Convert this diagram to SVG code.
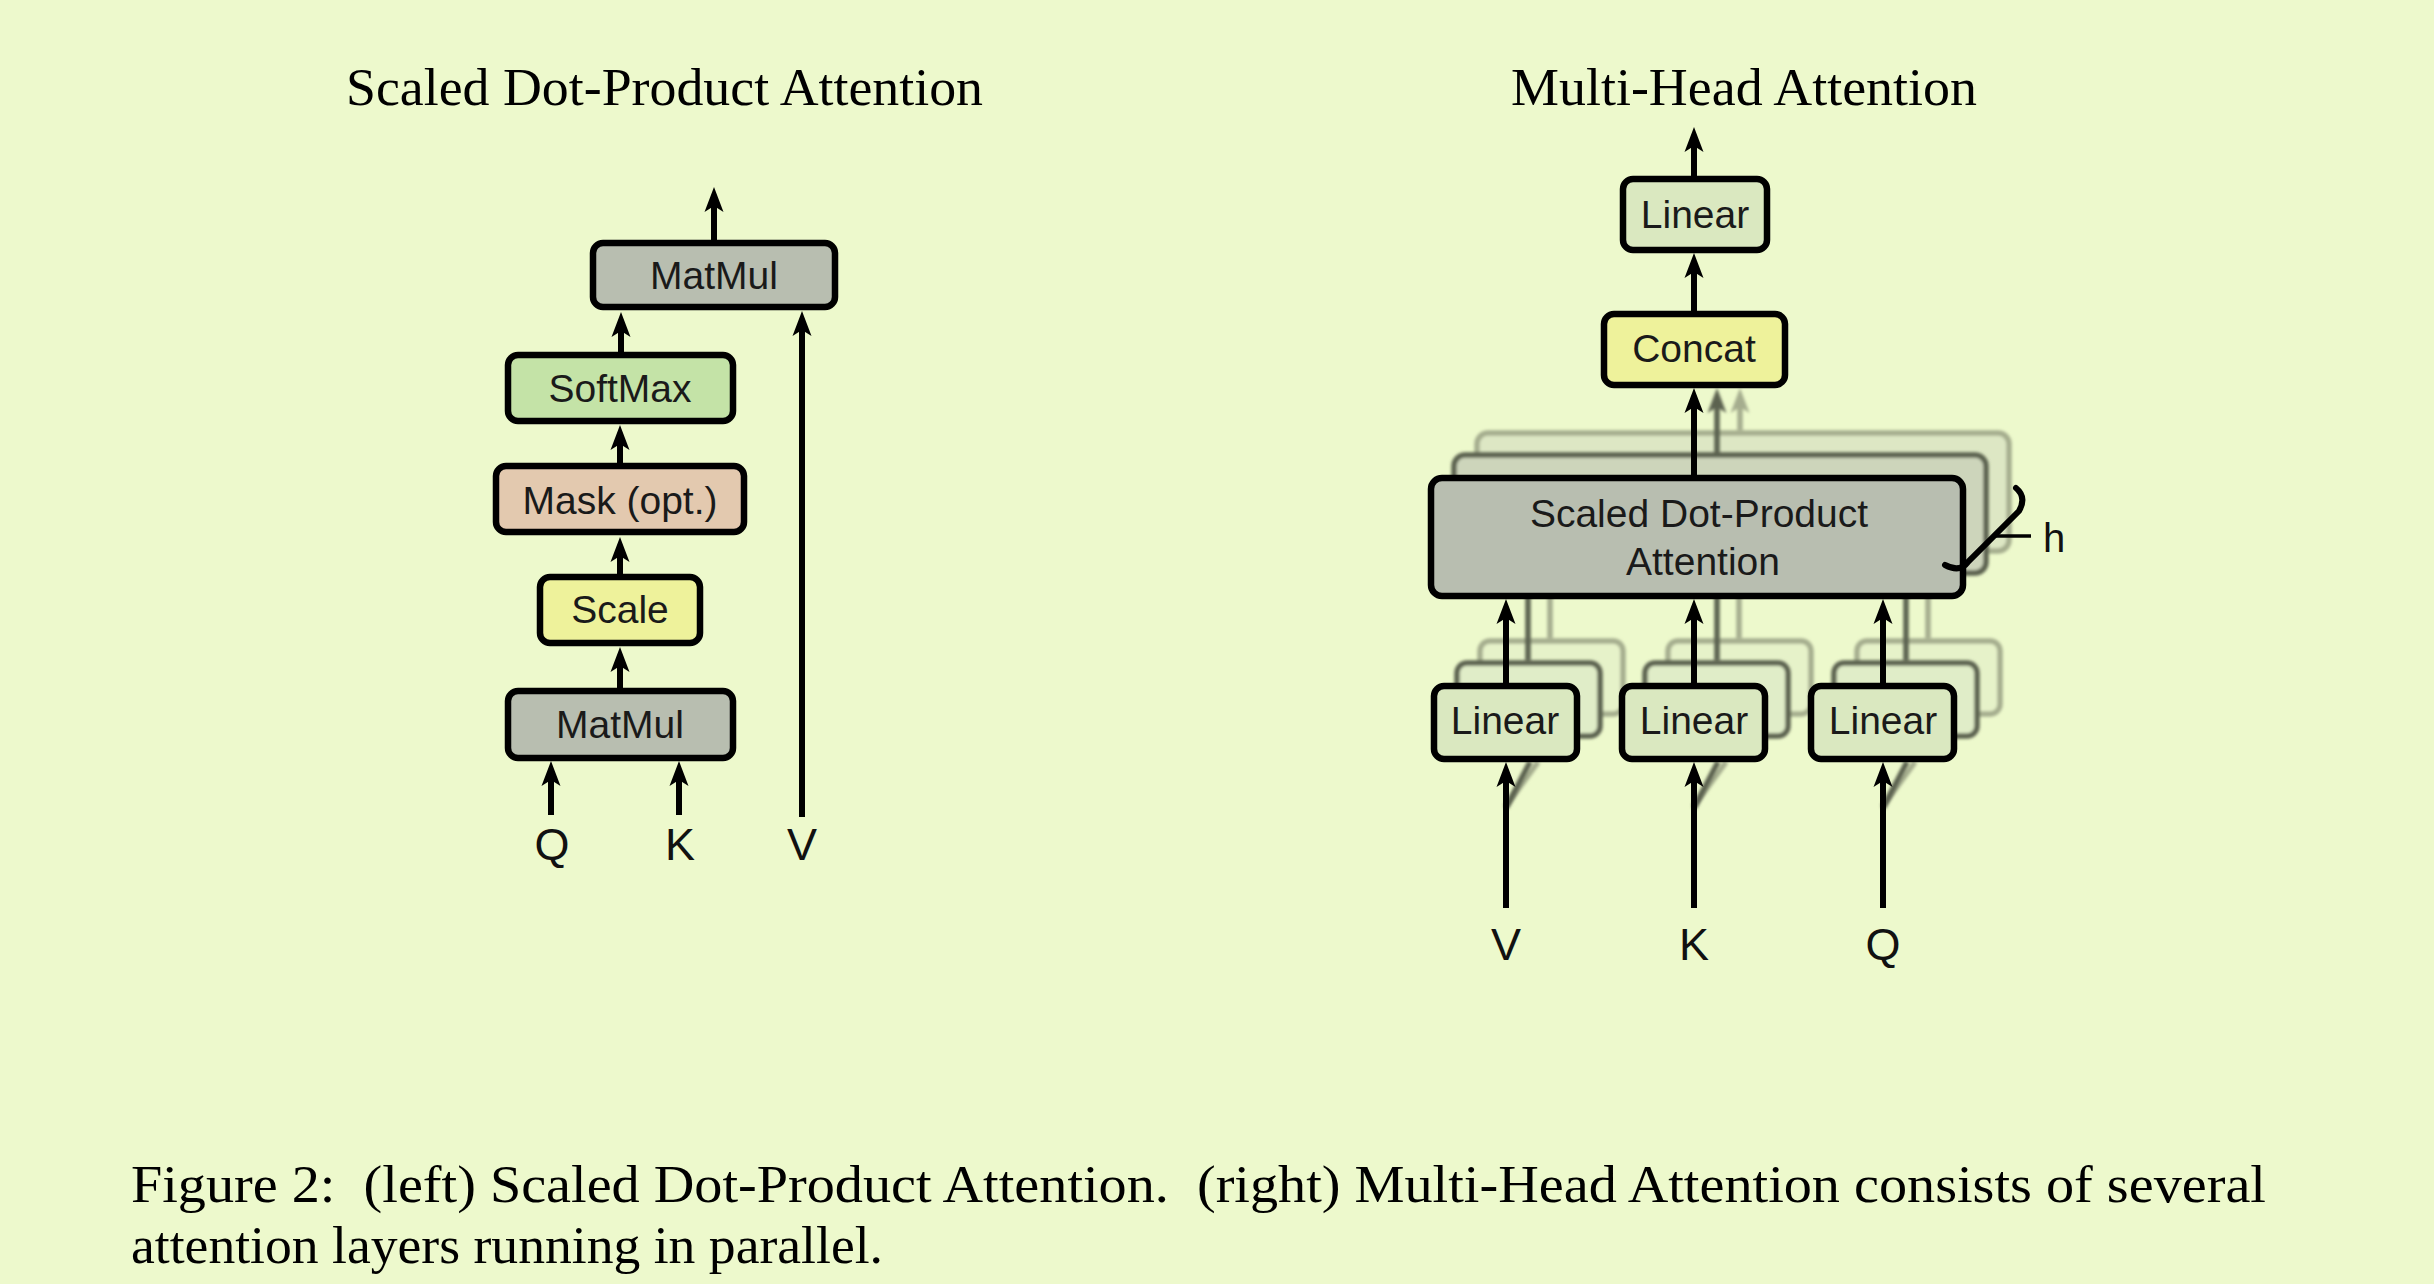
<svg xmlns="http://www.w3.org/2000/svg" width="2434" height="1284" viewBox="0 0 2434 1284">
<defs>
<style>
.bg{fill:#EDF9CC}
.box{stroke:#000;stroke-width:6.5}
.mid{stroke:#5C6250;stroke-width:5.5}
.back{stroke:#A5AD8E;stroke-width:5.5}
.gray{fill:#B8BEB0}
.soft{fill:#C4E3A7}
.mask{fill:#E3C9AF}
.yel{fill:#EEF29B}
.lin{fill:#DAE8C0}
.lbl{font-family:"Liberation Sans",Arial,Helvetica,sans-serif;font-size:39px;fill:#1a1a1a;text-anchor:middle}
.io{font-family:"Liberation Sans",Arial,Helvetica,sans-serif;font-size:45px;fill:#111;text-anchor:middle}
.ttl{font-family:"Liberation Serif","Times New Roman",serif;font-size:53px;fill:#000}
.cap{font-family:"Liberation Serif","Times New Roman",serif;font-size:53px;fill:#000;white-space:pre}
.ar{stroke:#000;stroke-width:6;fill:none;marker-end:url(#ah)}
.arm{stroke:#5C6250;stroke-width:5.5;fill:none;marker-end:url(#ahm)}
.arb{stroke:#A5AD8E;stroke-width:5.5;fill:none;marker-end:url(#ahb)}
</style>
<marker id="ah" markerUnits="userSpaceOnUse" viewBox="-14 -10 27 20" markerWidth="27" markerHeight="20" refX="0" refY="0" orient="auto"><path d="M12,0 L-13,-9.5 L-7,0 L-13,9.5 Z" fill="#000"/></marker>
<marker id="ahm" markerUnits="userSpaceOnUse" viewBox="-14 -10 27 20" markerWidth="27" markerHeight="20" refX="0" refY="0" orient="auto"><path d="M12,0 L-13,-9.5 L-7,0 L-13,9.5 Z" fill="#5C6250"/></marker>
<marker id="ahb" markerUnits="userSpaceOnUse" viewBox="-14 -10 27 20" markerWidth="27" markerHeight="20" refX="0" refY="0" orient="auto"><path d="M12,0 L-13,-9.5 L-7,0 L-13,9.5 Z" fill="#A5AD8E"/></marker>
<filter id="soft-blur" x="-5%" y="-5%" width="110%" height="110%"><feGaussianBlur stdDeviation="1.6"/></filter>
</defs>
<rect class="bg" x="0" y="0" width="2434" height="1284"/>

<text class="ttl" x="346" y="105" textLength="637" lengthAdjust="spacingAndGlyphs">Scaled Dot-Product Attention</text>
<text class="ttl" x="1511" y="105" textLength="466" lengthAdjust="spacingAndGlyphs">Multi-Head Attention</text>

<!-- back layers of multi-head stacks -->
<g id="heads-back" filter="url(#soft-blur)">
  <rect class="back" x="1477" y="433" width="532" height="118" rx="11" fill="#DDE7C4"/>
  <line class="arb" x1="1740" y1="430" x2="1740" y2="400"/>
  <rect class="back" x="1480" y="641" width="143" height="73" rx="10" fill="#E6F2C9"/>
  <rect class="back" x="1668" y="641" width="143" height="73" rx="10" fill="#E6F2C9"/>
  <rect class="back" x="1857" y="641" width="143" height="73" rx="10" fill="#E6F2C9"/>
  <line class="back" x1="1550" y1="638" x2="1550" y2="553"/>
  <line class="back" x1="1739" y1="638" x2="1739" y2="553"/>
  <line class="back" x1="1928" y1="638" x2="1928" y2="553"/>
  <line class="back" x1="1506" y1="806" x2="1538" y2="762"/>
  <line class="back" x1="1694" y1="806" x2="1726" y2="762"/>
  <line class="back" x1="1883" y1="806" x2="1915" y2="762"/>
</g>
<g id="heads-middle" filter="url(#soft-blur)">
  <rect class="mid" x="1454" y="455" width="532" height="118" rx="11" fill="#CDD5BB"/>
  <line class="arm" x1="1717" y1="453" x2="1717" y2="400"/>
  <rect class="mid" x="1457" y="663" width="143" height="73" rx="10" fill="#E0EDC8"/>
  <rect class="mid" x="1645" y="663" width="143" height="73" rx="10" fill="#E0EDC8"/>
  <rect class="mid" x="1834" y="663" width="143" height="73" rx="10" fill="#E0EDC8"/>
  <line class="mid" x1="1528" y1="660" x2="1528" y2="575"/>
  <line class="mid" x1="1717" y1="660" x2="1717" y2="575"/>
  <line class="mid" x1="1906" y1="660" x2="1906" y2="575"/>
  <line class="mid" x1="1506" y1="808" x2="1530" y2="762"/>
  <line class="mid" x1="1694" y1="808" x2="1718" y2="762"/>
  <line class="mid" x1="1883" y1="808" x2="1907" y2="762"/>
</g>

<!-- left: scaled dot-product attention -->
<g id="matmul-top"><rect class="box gray" x="593" y="243" width="242" height="64" rx="10"/><text class="lbl" x="714" y="289">MatMul</text></g>
<g id="softmax"><rect class="box soft" x="508" y="355" width="225" height="66" rx="10"/><text class="lbl" x="620" y="402">SoftMax</text></g>
<g id="mask"><rect class="box mask" x="496" y="466" width="248" height="66" rx="10"/><text class="lbl" x="620" y="514">Mask (opt.)</text></g>
<g id="scale"><rect class="box yel" x="540" y="577" width="160" height="66" rx="10"/><text class="lbl" x="620" y="623">Scale</text></g>
<g id="matmul-bottom"><rect class="box gray" x="508" y="691" width="225" height="67" rx="10"/><text class="lbl" x="620" y="738">MatMul</text></g>
<g id="left-inputs"><text class="io" x="552" y="860">Q</text><text class="io" x="680" y="860">K</text><text class="io" x="802" y="860">V</text></g>

<!-- right: multi-head attention -->
<g id="linear-out"><rect class="box lin" x="1623" y="179" width="144" height="71" rx="10"/><text class="lbl" x="1695" y="228">Linear</text></g>
<g id="concat"><rect class="box yel" x="1604" y="314" width="181" height="71" rx="10"/><text class="lbl" x="1694" y="362">Concat</text></g>
<g id="sdpa"><rect class="box gray" x="1431" y="478" width="532" height="118" rx="11"/><text class="lbl" x="1699" y="527">Scaled Dot-Product</text><text class="lbl" x="1703" y="575">Attention</text></g>
<g id="linear-v"><rect class="box lin" x="1434" y="686" width="143" height="73" rx="10"/><text class="lbl" x="1505" y="734">Linear</text></g>
<g id="linear-k"><rect class="box lin" x="1622" y="686" width="143" height="73" rx="10"/><text class="lbl" x="1694" y="734">Linear</text></g>
<g id="linear-q"><rect class="box lin" x="1811" y="686" width="143" height="73" rx="10"/><text class="lbl" x="1883" y="734">Linear</text></g>
<g id="right-inputs"><text class="io" x="1506" y="960">V</text><text class="io" x="1694" y="960">K</text><text class="io" x="1883" y="960">Q</text></g>
<g id="heads-brace">
  <path d="M2016,488 Q2027,497 2019,511 L1968,562 Q1960,573 1945,565" fill="none" stroke="#000" stroke-width="6" stroke-linecap="round"/>
  <line x1="1994" y1="536" x2="2031" y2="536" stroke="#000" stroke-width="3.5"/>
  <text class="io" x="2054" y="552" style="font-size:40px">h</text>
</g>

<g id="connectors">
  <line class="ar" x1="714" y1="243" x2="714" y2="199"/>
  <line class="ar" x1="621" y1="355" x2="621" y2="324"/>
  <line class="ar" x1="620" y1="466" x2="620" y2="437"/>
  <line class="ar" x1="620" y1="577" x2="620" y2="549"/>
  <line class="ar" x1="620" y1="691" x2="620" y2="659"/>
  <line class="ar" x1="551" y1="815" x2="551" y2="773"/>
  <line class="ar" x1="679" y1="815" x2="679" y2="773"/>
  <line class="ar" x1="802" y1="817" x2="802" y2="323"/>
  <line class="ar" x1="1694" y1="179" x2="1694" y2="139"/>
  <line class="ar" x1="1694" y1="314" x2="1694" y2="265"/>
  <line class="ar" x1="1694" y1="478" x2="1694" y2="400"/>
  <line class="ar" x1="1506" y1="686" x2="1506" y2="611"/>
  <line class="ar" x1="1694" y1="686" x2="1694" y2="611"/>
  <line class="ar" x1="1883" y1="686" x2="1883" y2="611"/>
  <line class="ar" x1="1506" y1="908" x2="1506" y2="774"/>
  <line class="ar" x1="1694" y1="908" x2="1694" y2="774"/>
  <line class="ar" x1="1883" y1="908" x2="1883" y2="774"/>
</g>

<g id="caption">
  <text class="cap" x="131" y="1202" textLength="2135" lengthAdjust="spacingAndGlyphs">Figure 2:  (left) Scaled Dot-Product Attention.  (right) Multi-Head Attention consists of several</text>
  <text class="cap" x="131" y="1263" textLength="752" lengthAdjust="spacingAndGlyphs">attention layers running in parallel.</text>
</g>
</svg>
